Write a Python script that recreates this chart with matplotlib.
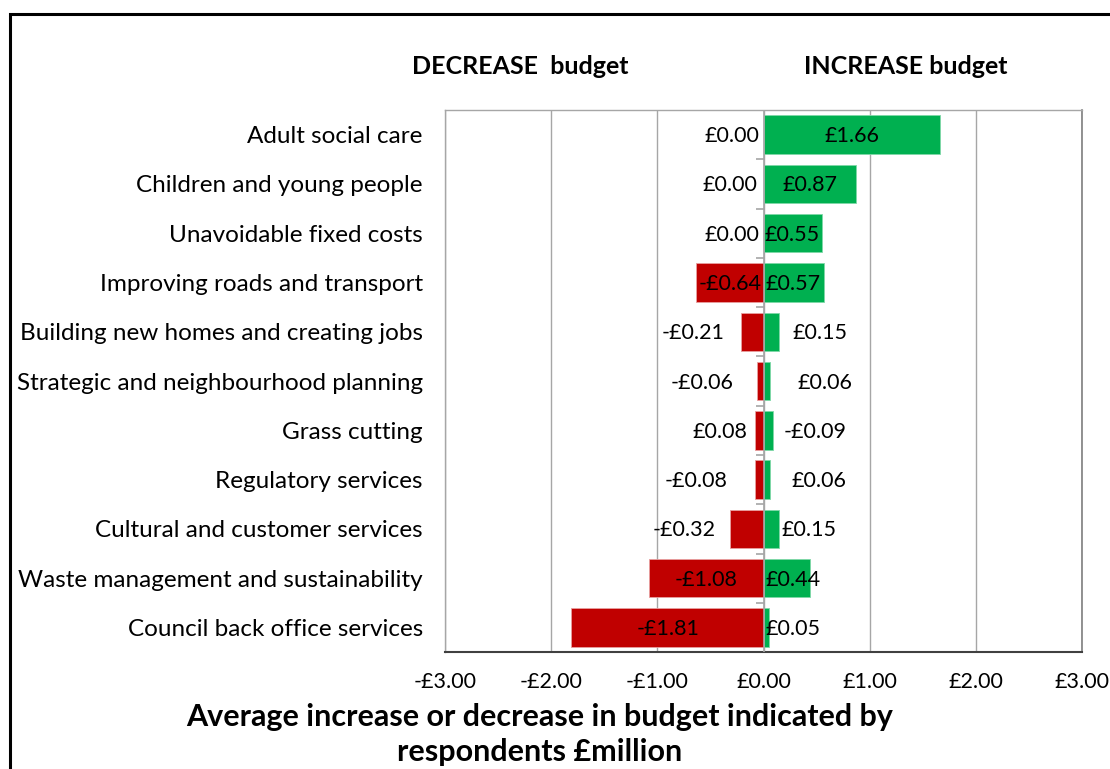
import matplotlib
matplotlib.use("Agg")
import matplotlib.pyplot as plt
from matplotlib.patches import Rectangle

categories = ["Adult social care", "Children and young people", "Unavoidable fixed costs",
              "Improving roads and transport", "Building new homes and creating jobs",
              "Strategic and neighbourhood planning", "Grass cutting", "Regulatory services",
              "Cultural and customer services", "Waste management and sustainability",
              "Council back office services"]
decrease = [0.0, 0.0, 0.0, -0.64, -0.21, -0.06, -0.08, -0.08, -0.32, -1.08, -1.81]
increase = [1.66, 0.87, 0.55, 0.57, 0.15, 0.06, 0.09, 0.06, 0.15, 0.44, 0.05]
decrease_labels = ["£0.00", "£0.00", "£0.00", "-£0.64", "-£0.21", "-£0.06", "£0.08",
                   "-£0.08", "-£0.32", "-£1.08", "-£1.81"]
increase_labels = ["£1.66", "£0.87", "£0.55", "£0.57", "£0.15", "£0.06", "-£0.09",
                   "£0.06", "£0.15", "£0.44", "£0.05"]
xticks = [-3, -2, -1, 0, 1, 2, 3]
xtick_labels = ["-£3.00", "-£2.00", "-£1.00", "£0.00", "£1.00", "£2.00", "£3.00"]

# label placement (data x of label centre), layout only
dec_label_x = [-0.30, -0.32, -0.30, -0.31, -0.66, -0.58, -0.41, -0.64, -0.75, -0.54, -0.90]
inc_label_x = [0.83, 0.44, 0.27, 0.28, 0.53, 0.58, 0.49, 0.52, 0.43, 0.28, 0.28]

RED = "#C00000"
GREEN = "#00B050"
FONT = ["Lato", "DejaVu Sans"]
plt.rcParams["font.family"] = FONT

fig = plt.figure(figsize=(11.1, 7.69), dpi=100)
ax = fig.add_axes([0.4009, 0.152, 0.5739, 0.705])

y = list(range(len(categories)))
ax.barh(y, decrease, height=0.78, color=RED, edgecolor="#E8A0A0", linewidth=0.6, zorder=3)
ax.barh(y, increase, height=0.78, color=GREEN, edgecolor="#80D8A8", linewidth=0.6, zorder=3)

for i in y:
    ax.text(dec_label_x[i], i + 0.03, decrease_labels[i], ha="center", va="center",
            fontsize=15.5, color="black", zorder=5)
    ax.text(inc_label_x[i], i + 0.03, increase_labels[i], ha="center", va="center",
            fontsize=15.5, color="black", zorder=5)

ax.set_xlim(-3, 3)
ax.set_ylim(len(categories) - 0.5, -0.5)
ax.set_xticks(xticks)
ax.set_xticklabels(xtick_labels, fontsize=15.5)
ax.set_yticks(y)
ax.set_yticklabels(categories, fontsize=17.5)
ax.tick_params(axis="y", length=0, pad=16)
ax.tick_params(axis="x", length=0, pad=14)

ax.grid(axis="x", color="#A6A6A6", linewidth=1.0, zorder=0)
ax.axvline(0, color="#A6A6A6", linewidth=1.2, zorder=4)
ax.hlines([i + 0.5 for i in y[:-1]], -0.07, 0, color="#A6A6A6", linewidth=1.2, zorder=4)

for s in ["left", "top"]:
    ax.spines[s].set_color("#A6A6A6")
    ax.spines[s].set_linewidth(1.0)
ax.spines["right"].set_color("#7F7F7F")
ax.spines["right"].set_linewidth(1.2)
ax.spines["bottom"].set_color("#404040")
ax.spines["bottom"].set_linewidth(1.5)

fig.text(520 / 1110, 1 - 66 / 769, "DECREASE  budget", ha="center", va="center",
         fontsize=18, fontweight="bold")
fig.text(906 / 1110, 1 - 66 / 769, "INCREASE budget", ha="center", va="center",
         fontsize=18, fontweight="bold")
fig.text(540 / 1110, 1 - 717 / 769, "Average increase or decrease in budget indicated by",
         ha="center", va="center", fontsize=22, fontweight="bold")
fig.text(540 / 1110, 1 - 752 / 769, "respondents £million",
         ha="center", va="center", fontsize=22, fontweight="bold")

fig.patches.append(Rectangle((10 / 1110, -0.1), 1.2, 1 - 14 / 769 + 0.1,
                             transform=fig.transFigure, fill=False,
                             edgecolor="black", linewidth=2.2, zorder=10))

fig.savefig("out.png", dpi=100)
